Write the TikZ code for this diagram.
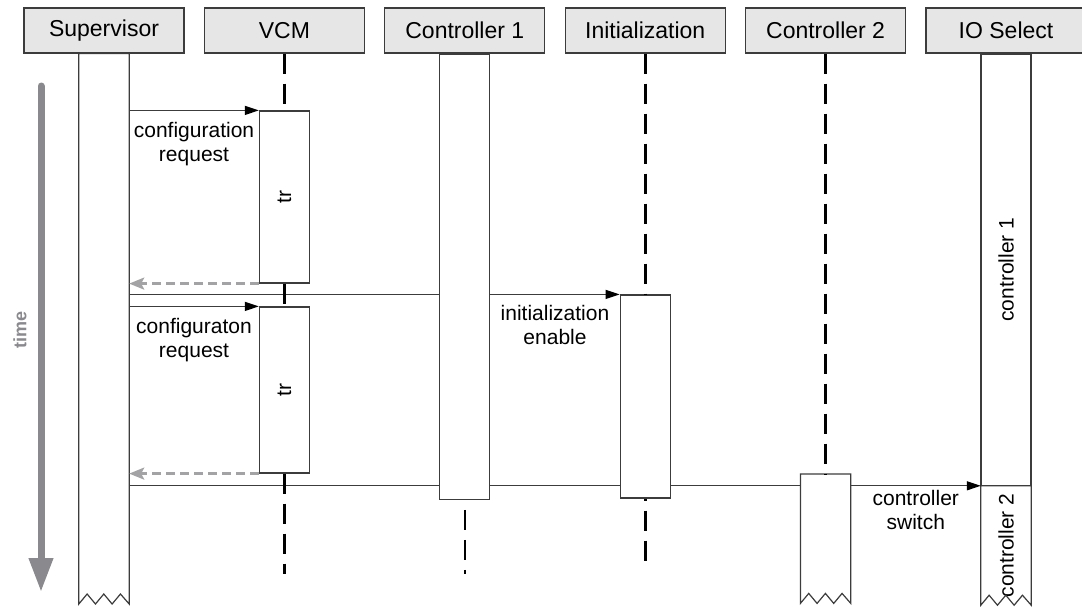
\documentclass[tikz,border=0pt]{standalone}
\usepackage{fontspec}
\setmainfont{Liberation Sans}
\usetikzlibrary{positioning,arrows.meta}

\definecolor{headgray}{HTML}{E6E6E6}
\definecolor{edgegray}{HTML}{3C3C3C}
\definecolor{replygray}{HTML}{A3A3A6}
\definecolor{timegray}{HTML}{8A8A8E}

\tikzset{
  head/.style={draw=edgegray, fill=headgray, line width=1.2pt, minimum width=160pt,
    minimum height=45pt, inner sep=0pt, font=\fontsize{23}{27}\selectfont},
  act/.style={draw=edgegray, fill=white, line width=1.2pt, minimum width=50pt,
    inner sep=0pt, font=\fontsize{21}{24}\selectfont},
  hidden/.style={minimum width=50pt, inner sep=0pt, anchor=north,
    font=\fontsize{21}{24}\selectfont},
  bar/.style={draw=edgegray, line width=1.2pt},
  life/.style={line width=2.6pt, dash pattern=on 20pt off 10pt},
  msg/.style={draw=edgegray, line width=1.3pt},
  call/.style={msg, -{Triangle[length=14pt,width=9pt,black]}},
  reply/.style={replygray, line width=2.6pt, dash pattern=on 9pt off 5pt,
    -{Stealth[length=15pt,width=12pt,inset=3pt]}},
  lbl/.style={align=center, font=\fontsize{21}{24}\selectfont, inner sep=4pt},
}

\begin{document}
\begin{tikzpicture}[x=1pt,y=-1pt]
\useasboundingbox (0,0) rectangle (1082,606);

% heads
\node[head] (sup) at (104,30.5) {Supervisor};
\node[head, right=19.2pt of sup] (vcm) {VCM};
\node[head, right=19.2pt of vcm] (ctl1) {Controller 1};
\node[head, right=19.2pt of ctl1] (init) {Initialization};
\node[head, right=19.2pt of init] (ctl2) {Controller 2};
\node[head, right=19.2pt of ctl2] (iosel) {IO Select};

% activations
\node[hidden, minimum height=550pt] (supbar) at (sup.south) {};
\node[act, anchor=north, minimum height=445pt] (c1bar) at (ctl1.south) {};
\node[act, minimum height=172pt] (tr1) at (vcm.south |- 0,197) {\rotatebox{90}{tr}};
\node[act, minimum height=166pt] (tr2) at (vcm.south |- 0,390) {\rotatebox{90}{tr}};
\node[act, minimum height=203pt] (init1) at (init.south |- 0,396.5) {};
\node[hidden, minimum height=129pt] (c2bar) at (ctl2.south |- 0,474) {};
\node[act, anchor=north, minimum height=431pt] (io1) at (iosel.south) {\rotatebox{90}{controller 1}};
\node[hidden, minimum height=119pt] (io2) at (io1.south) {\rotatebox{90}{controller 2}};

% open ended bars
\foreach \b in {supbar,c2bar,io2}
  \draw[bar] (\b.north west) -- (\b.south west) -- ++(8.33,-10) -- ++(8.33,10)
    -- ++(8.33,-10) -- ++(8.33,10) -- ++(8.33,-10) -- (\b.south east)
    -- (\b.north east) -- cycle;

% messages
\draw[call] (supbar.east |- tr1.north) -- node[lbl, below, yshift=-7pt] {configuration\\request} (tr1.north west);
\draw[reply] (tr1.south west) -- (supbar.east |- tr1.south);
\draw[msg] (supbar.east |- init1.north) -- (c1bar.west |- init1.north);
\draw[call] (c1bar.east |- init1.north) -- node[lbl, below, yshift=-6pt] {initialization\\enable} (init1.north west);
\draw[call] (supbar.east |- tr2.north) -- node[lbl, below, yshift=-7pt] {configuraton\\request} (tr2.north west);
\draw[reply] (tr2.south west) -- (supbar.east |- tr2.south);
\draw[msg] (supbar.east |- io2.north) -- (c1bar.west |- io2.north);
\draw[msg] (c1bar.east |- io2.north) -- (init1.west |- io2.north);
\draw[msg] (init1.east |- io2.north) -- (c2bar.west |- io2.north);
\draw[call] (c2bar.east |- io2.north) -- node[lbl, below] {controller\\switch} (io2.north west);

% lifelines
\draw[life] (vcm.south) -- (tr1.north);
\draw[life] (tr1.south) -- (tr2.north);
\draw[life] (tr2.south) -- ++(0,100);
\draw[life, dash phase=20pt] (c1bar.south) -- ++(0,74);
\draw[life] (init.south) -- (init1.north);
\draw[life, dash phase=18pt] (init1.south) -- ++(0,65);
\draw[life] (ctl2.south) -- (c2bar.north);

% time axis
\draw[timegray, line width=7pt, line cap=round, -{Triangle[length=34pt,width=23pt]}] (41,86) -- (41,592);
\node[rotate=90, text=timegray, font=\fontsize{18}{20}\selectfont\bfseries] (timelbl) at (20,330) {time};
\end{tikzpicture}
\end{document}
